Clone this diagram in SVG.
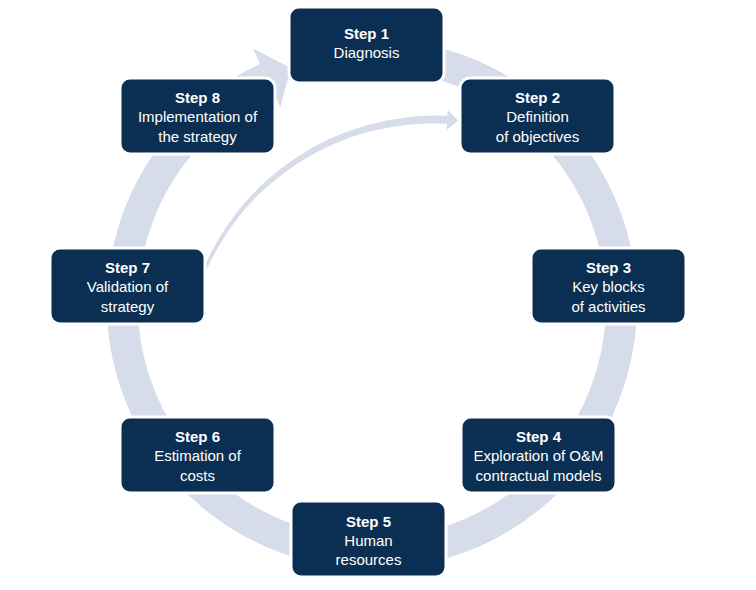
<svg xmlns="http://www.w3.org/2000/svg" width="756" height="590" viewBox="0 0 756 590">
<style>
.box{fill:#0B2F52;stroke:#ffffff;stroke-width:3}
.t{font-family:"Liberation Sans",Arial,sans-serif;font-size:15px;fill:#ffffff;text-anchor:middle}
.b{font-weight:bold}
.ring{fill:none;stroke:#D6DCEA;stroke-width:31}
.fillring{fill:#D6DCEA}
</style>
<rect width="756" height="590" fill="#ffffff"/>
<g id="connectors">
<path class="ring" d="M 328.67 58.29 A 249.5 249.5 0 1 1 266.56 77.88"/>
<polygon class="fillring" points="252.8,48.4 290.8,68.1 280.3,107.3"/>
<path class="fillring" d="M 198.57 281.02 A 252.5 252.5 0 0 1 447.29 115.85 L 446.88 123.84 A 247.5 247.5 0 0 0 201.38 282.08 Z"/>
<polygon class="fillring" points="447.6,109.9 458.1,120.4 446.6,129.8"/>
</g>
<g id="step1">
<rect class="box" x="289" y="7" width="155" height="76" rx="10"/>
<text class="t b" x="366.5" y="38.5">Step 1</text>
<text class="t" x="366.5" y="58">Diagnosis</text>
</g>
<g id="step2">
<rect class="box" x="460" y="78" width="155" height="76" rx="10"/>
<text class="t b" x="537.5" y="102.5">Step 2</text>
<text class="t" x="537.5" y="122">Definition</text>
<text class="t" x="537.5" y="141.5">of objectives</text>
</g>
<g id="step3">
<rect class="box" x="531" y="248" width="155" height="76" rx="10"/>
<text class="t b" x="608.5" y="272.5">Step 3</text>
<text class="t" x="608.5" y="292">Key blocks</text>
<text class="t" x="608.5" y="311.5">of activities</text>
</g>
<g id="step4">
<rect class="box" x="461" y="417" width="155" height="76" rx="10"/>
<text class="t b" x="538.5" y="441.5">Step 4</text>
<text class="t" x="538.5" y="461">Exploration of O&amp;M</text>
<text class="t" x="538.5" y="480.5">contractual models</text>
</g>
<g id="step5">
<rect class="box" x="291" y="501" width="155" height="76" rx="10"/>
<text class="t b" x="368.5" y="526.5">Step 5</text>
<text class="t" x="368.5" y="546">Human</text>
<text class="t" x="368.5" y="565">resources</text>
</g>
<g id="step6">
<rect class="box" x="120" y="417" width="155" height="76" rx="10"/>
<text class="t b" x="197.5" y="441.5">Step 6</text>
<text class="t" x="197.5" y="461">Estimation of</text>
<text class="t" x="197.5" y="480.5">costs</text>
</g>
<g id="step7">
<rect class="box" x="50" y="248" width="155" height="76" rx="10"/>
<text class="t b" x="127.5" y="272.5">Step 7</text>
<text class="t" x="127.5" y="292">Validation of</text>
<text class="t" x="127.5" y="311.5">strategy</text>
</g>
<g id="step8">
<rect class="box" x="120" y="78" width="155" height="76" rx="10"/>
<text class="t b" x="197.5" y="102.5">Step 8</text>
<text class="t" x="197.5" y="122">Implementation of</text>
<text class="t" x="197.5" y="141.5">the strategy</text>
</g>
</svg>
